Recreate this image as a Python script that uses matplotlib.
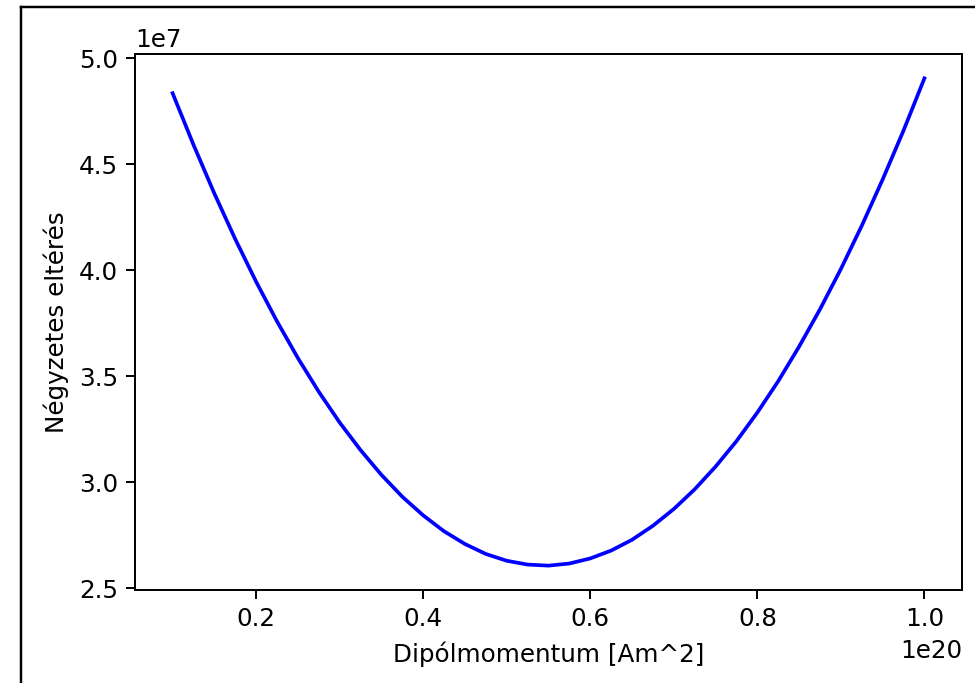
import numpy as np
import matplotlib
matplotlib.use("Agg")
import matplotlib.pyplot as plt
from matplotlib.lines import Line2D

# dipole moment [Am^2] (units of 1e20) and squared deviation (units of 1e7),
# read off the reference curve
dipole = np.array([
    0.100, 0.125, 0.150, 0.175, 0.200, 0.225, 0.250, 0.275, 0.300, 0.325,
    0.350, 0.375, 0.400, 0.425, 0.450, 0.475, 0.500, 0.525, 0.550, 0.575,
    0.600, 0.625, 0.650, 0.675, 0.700, 0.725, 0.750, 0.775, 0.800, 0.825,
    0.850, 0.875, 0.900, 0.925, 0.950, 0.975, 1.000,
]) * 1e20
sq_dev = np.array([
    4.835, 4.592, 4.362, 4.147, 3.946, 3.759, 3.586, 3.427, 3.282, 3.152,
    3.035, 2.932, 2.844, 2.769, 2.709, 2.662, 2.630, 2.612, 2.607, 2.617,
    2.641, 2.678, 2.729, 2.795, 2.874, 2.967, 3.074, 3.194, 3.329, 3.477,
    3.640, 3.816, 4.006, 4.210, 4.428, 4.659, 4.905,
]) * 1e7

x_label = "Dipólmomentum [Am^2]"
y_label = "Négyzetes eltérés"

DPI = 177
fig = plt.figure(figsize=(975 / DPI, 683 / DPI), dpi=DPI)
ax = fig.add_axes([135 / 975, 93 / 683, 827 / 975, 536 / 683])

ax.plot(dipole, sq_dev, color="b", linewidth=1.5)
ax.set_xlabel(x_label)
ax.set_ylabel(y_label)

# screenshot frame (left and top edge)
fig.add_artist(Line2D([21 / 975, 21 / 975], [0, 1 - 7 / 683], color="black",
                      linewidth=1.0, transform=fig.transFigure))
fig.add_artist(Line2D([21 / 975, 1], [1 - 7 / 683, 1 - 7 / 683], color="black",
                      linewidth=1.0, transform=fig.transFigure))

fig.savefig("out.png", dpi=DPI)
